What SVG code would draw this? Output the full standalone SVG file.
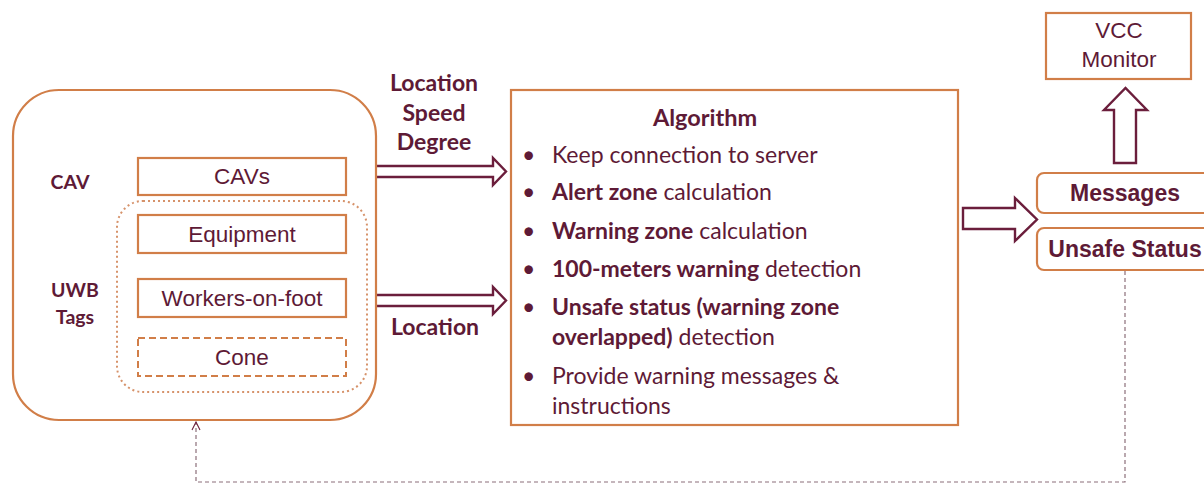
<svg xmlns="http://www.w3.org/2000/svg" width="1204" height="483" viewBox="0 0 1204 483">
<defs>
<style>
.box{fill:#fff;stroke:#D17E48;stroke-width:2.2}
.dash{fill:none;stroke:#D17E48;stroke-width:2;stroke-dasharray:7 4}
.dot{fill:none;stroke:#D6926A;stroke-width:2;stroke-dasharray:2 3}
.arr{fill:#fff;stroke:#6B1E3C;stroke-width:2.4;stroke-linejoin:miter}
.t{font-family:"Liberation Sans",Arial,sans-serif;font-size:22.5px;fill:#5E1A36;text-anchor:middle}
.tb{font-family:"Liberation Sans",Arial,sans-serif;font-size:23px;font-weight:bold;fill:#5E1A36;text-anchor:middle}
.c{font-family:Lato,"Open Sans",sans-serif;fill:#5E1A36}
.cb{font-family:Lato,"Open Sans",sans-serif;font-weight:bold;fill:#5E1A36;text-anchor:middle}
.conn{fill:none;stroke:#8C6F7A;stroke-width:1.2;stroke-dasharray:4 3}
</style>
<marker id="open" viewBox="0 0 10 10" refX="9" refY="5" markerWidth="10" markerHeight="10" markerUnits="userSpaceOnUse" orient="auto">
<path d="M1,1 L9,5 L1,9" fill="none" stroke="#6B1E3C" stroke-width="1.1"/>
</marker>
</defs>
<rect width="1204" height="483" fill="#fff"/>

<g id="connectors">
<polygon class="arr" points="357,166 493,166 493,158 506,171.5 493,185 493,177 357,177"/>
<polygon class="arr" points="357,295 493,295 493,287 506,300.5 493,314 493,306 357,306"/>
<polygon class="arr" points="963,208 1015,208 1015,198 1037,219.5 1015,241 1015,229 963,229"/>
<polygon class="arr" points="1114,163 1114,110 1104,110 1125.5,88 1147,110 1136,110 1136,163"/>
<path class="conn" d="M1125,271 V482 H196 V422" marker-end="url(#open)"/>
</g>

<g id="sources">
<rect class="box" x="13" y="90" width="363" height="330" rx="46"/>
<rect class="dot" x="117" y="201" width="250" height="191" rx="26"/>
<text class="cb" x="70" y="189" font-size="19.5">CAV</text>
<text class="cb" x="75" y="297" font-size="19.5">UWB</text>
<text class="cb" x="75" y="324" font-size="19.5">Tags</text>
</g>
<g id="cavs"><rect class="box" x="138" y="158" width="208" height="37"/><text class="t" x="242" y="184">CAVs</text></g>
<g id="equipment"><rect class="box" x="138" y="215" width="208" height="38"/><text class="t" x="242" y="242">Equipment</text></g>
<g id="workers"><rect class="box" x="138" y="279" width="208" height="38"/><text class="t" x="242" y="306">Workers-on-foot</text></g>
<g id="cone"><rect class="dash" x="138" y="338" width="208" height="38"/><text class="t" x="242" y="365">Cone</text></g>

<g id="labels">
<text class="cb" x="434" y="91" font-size="23">Location</text>
<text class="cb" x="434" y="121" font-size="23">Speed</text>
<text class="cb" x="434" y="150" font-size="23">Degree</text>
<text class="cb" x="435" y="335" font-size="23">Location</text>
</g>

<g id="algorithm">
<rect class="box" x="511" y="90" width="447" height="335"/>
<text class="cb" x="705" y="126" font-size="23.5">Algorithm</text>
<g class="c" font-size="23">
<text x="522" y="163">•</text><text x="552" y="163">Keep connection to server</text>
<text x="522" y="200">•</text><text x="552" y="200"><tspan font-weight="bold">Alert zone</tspan> calculation</text>
<text x="522" y="239">•</text><text x="552" y="239"><tspan font-weight="bold">Warning zone</tspan> calculation</text>
<text x="522" y="277">•</text><text x="552" y="277"><tspan font-weight="bold">100-meters warning</tspan> detection</text>
<text x="522" y="315">•</text><text x="552" y="315"><tspan font-weight="bold">Unsafe status (warning zone</tspan></text>
<text x="552" y="345"><tspan font-weight="bold">overlapped)</tspan> detection</text>
<text x="522" y="384">•</text><text x="552" y="384">Provide warning messages &amp;</text>
<text x="552" y="414">instructions</text>
</g>
</g>

<g id="vcc"><rect class="box" x="1046" y="13" width="145" height="66"/><text class="t" x="1119" y="38">VCC</text><text class="t" x="1119" y="67">Monitor</text></g>
<g id="messages"><rect class="box" x="1037" y="173" width="180" height="40" rx="7"/><text class="tb" x="1125" y="201">Messages</text></g>
<g id="unsafe"><rect class="box" x="1037" y="228" width="180" height="42" rx="7"/><text class="tb" x="1125" y="257">Unsafe Status</text></g>
</svg>
